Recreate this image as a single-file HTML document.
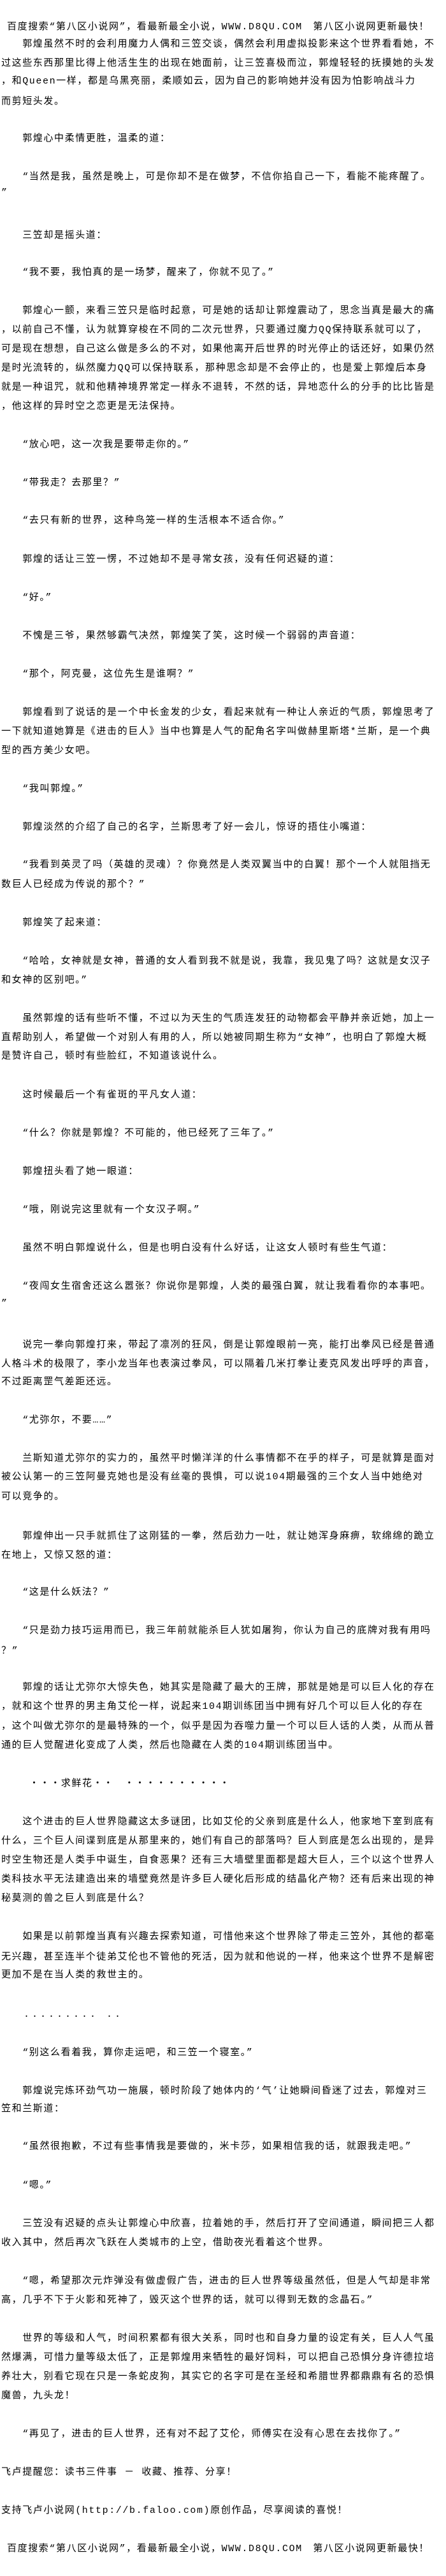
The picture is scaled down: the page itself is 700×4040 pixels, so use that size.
<!DOCTYPE html>
<html><head><meta charset="utf-8">
<style>
html,body{margin:0;padding:0;background:#fff;}
body{width:700px;height:4040px;position:relative;overflow:hidden;}
.l{position:absolute;left:2px;height:20px;line-height:20px;white-space:nowrap;color:#000;
font-family:"Liberation Mono","Noto Sans CJK SC","WenQuanYi Zen Hei",monospace;font-size:15px;letter-spacing:1.6px;}
</style></head><body>
<div class="l" style="top:33px;left:11px">百度搜索“第八区小说网”，看最新最全小说，WWW.D8QU.COM　第八区小说网更新最快！</div>
<div class="l" style="top:60px">　　郭煌虽然不时的会利用魔力人偶和三笠交谈，偶然会利用虚拟投影来这个世界看看她，不</div>
<div class="l" style="top:90px">过这些东西那里比得上他活生生的出现在她面前，让三笠喜极而泣，郭煌轻轻的抚摸她的头发</div>
<div class="l" style="top:118px">，和Queen一样，都是乌黑亮丽，柔顺如云，因为自己的影响她并没有因为怕影响战斗力</div>
<div class="l" style="top:150px">而剪短头发。</div>
<div class="l" style="top:208px">　　郭煌心中柔情更胜，温柔的道：</div>
<div class="l" style="top:268px">　　“当然是我，虽然是晚上，可是你却不是在做梦，不信你掐自己一下，看能不能疼醒了。</div>
<div class="l" style="top:293px">”</div>
<div class="l" style="top:360px">　　三笠却是摇头道：</div>
<div class="l" style="top:418px">　　“我不要，我怕真的是一场梦，醒来了，你就不见了。”</div>
<div class="l" style="top:478px">　　郭煌心一颤，来看三笠只是临时起意，可是她的话却让郭煌震动了，思念当真是最大的痛</div>
<div class="l" style="top:508px">，以前自己不懂，认为就算穿梭在不同的二次元世界，只要通过魔力QQ保持联系就可以了，</div>
<div class="l" style="top:538px">可是现在想想，自己这么做是多么的不对，如果他离开后世界的时光停止的话还好，如果仍然</div>
<div class="l" style="top:568px">是时光流转的，纵然魔力QQ可以保持联系，那种思念却是不会停止的，也是爱上郭煌后本身</div>
<div class="l" style="top:598px">就是一种诅咒，就和他精神境界常定一样永不退转，不然的话，异地恋什么的分手的比比皆是</div>
<div class="l" style="top:628px">，他这样的异时空之恋更是无法保持。</div>
<div class="l" style="top:688px">　　“放心吧，这一次我是要带走你的。”</div>
<div class="l" style="top:748px">　　“带我走？去那里？”</div>
<div class="l" style="top:807px">　　“去只有新的世界，这种鸟笼一样的生活根本不适合你。”</div>
<div class="l" style="top:868px">　　郭煌的话让三笠一愣，不过她却不是寻常女孩，没有任何迟疑的道：</div>
<div class="l" style="top:928px">　　“好。”</div>
<div class="l" style="top:988px">　　不愧是三爷，果然够霸气决然，郭煌笑了笑，这时候一个弱弱的声音道：</div>
<div class="l" style="top:1048px">　　“那个，阿克曼，这位先生是谁啊？”</div>
<div class="l" style="top:1108px">　　郭煌看到了说话的是一个中长金发的少女，看起来就有一种让人亲近的气质，郭煌思考了</div>
<div class="l" style="top:1138px">一下就知道她算是《进击的巨人》当中也算是人气的配角名字叫做赫里斯塔*兰斯，是一个典</div>
<div class="l" style="top:1168px">型的西方美少女吧。</div>
<div class="l" style="top:1228px">　　“我叫郭煌。”</div>
<div class="l" style="top:1288px">　　郭煌淡然的介绍了自己的名字，兰斯思考了好一会儿，惊讶的捂住小嘴道：</div>
<div class="l" style="top:1347px">　　“我看到英灵了吗（英雄的灵魂）？你竟然是人类双翼当中的白翼！那个一个人就阻挡无</div>
<div class="l" style="top:1378px">数巨人已经成为传说的那个？”</div>
<div class="l" style="top:1438px">　　郭煌笑了起来道：</div>
<div class="l" style="top:1498px">　　“哈哈，女神就是女神，普通的女人看到我不就是说，我靠，我见鬼了吗？这就是女汉子</div>
<div class="l" style="top:1528px">和女神的区别吧。”</div>
<div class="l" style="top:1588px">　　虽然郭煌的话有些听不懂，不过以为天生的气质连发狂的动物都会平静并亲近她，加上一</div>
<div class="l" style="top:1618px">直帮助别人，希望做一个对别人有用的人，所以她被同期生称为“女神”，也明白了郭煌大概</div>
<div class="l" style="top:1647px">是赞许自己，顿时有些脸红，不知道该说什么。</div>
<div class="l" style="top:1708px">　　这时候最后一个有雀斑的平凡女人道：</div>
<div class="l" style="top:1768px">　　“什么？你就是郭煌？不可能的，他已经死了三年了。”</div>
<div class="l" style="top:1828px">　　郭煌扭头看了她一眼道：</div>
<div class="l" style="top:1888px">　　“哦，刚说完这里就有一个女汉子啊。”</div>
<div class="l" style="top:1948px">　　虽然不明白郭煌说什么，但是也明白没有什么好话，让这女人顿时有些生气道：</div>
<div class="l" style="top:2008px">　　“夜闯女生宿舍还这么嚣张？你说你是郭煌，人类的最强白翼，就让我看看你的本事吧。</div>
<div class="l" style="top:2035px">”</div>
<div class="l" style="top:2100px">　　说完一拳向郭煌打来，带起了凛冽的狂风，倒是让郭煌眼前一亮，能打出拳风已经是普通</div>
<div class="l" style="top:2130px">人格斗术的极限了，李小龙当年也表演过拳风，可以隔着几米打拳让麦克风发出呼呼的声音，</div>
<div class="l" style="top:2158px">不过距离罡气差距还远。</div>
<div class="l" style="top:2218px">　　“尤弥尔，不要……”</div>
<div class="l" style="top:2278px">　　兰斯知道尤弥尔的实力的，虽然平时懒洋洋的什么事情都不在乎的样子，可是就算是面对</div>
<div class="l" style="top:2307px">被公认第一的三笠阿曼克她也是没有丝毫的畏惧，可以说104期最强的三个女人当中她绝对</div>
<div class="l" style="top:2338px">可以竞争的。</div>
<div class="l" style="top:2400px">　　郭煌伸出一只手就抓住了这刚猛的一拳，然后劲力一吐，就让她浑身麻痹，软绵绵的跪立</div>
<div class="l" style="top:2430px">在地上，又惊又怒的道：</div>
<div class="l" style="top:2488px">　　“这是什么妖法？”</div>
<div class="l" style="top:2548px">　　“只是劲力技巧运用而已，我三年前就能杀巨人犹如屠狗，你认为自己的底牌对我有用吗</div>
<div class="l" style="top:2580px">？”</div>
<div class="l" style="top:2637px">　　郭煌的话让尤弥尔大惊失色，她其实是隐藏了最大的王牌，那就是她是可以巨人化的存在</div>
<div class="l" style="top:2667px">，就和这个世界的男主角艾伦一样，说起来104期训练团当中拥有好几个可以巨人化的存在</div>
<div class="l" style="top:2698px">，这个叫做尤弥尔的是最特殊的一个，似乎是因为吞噬力量一个可以巨人话的人类，从而从普</div>
<div class="l" style="top:2728px">通的巨人觉醒进化变成了人类，然后也隐藏在人类的104期训练团当中。</div>
<div class="l" style="top:2788px;left:46px">・・・求鲜花・・　・・・・・・・・・・</div>
<div class="l" style="top:2848px">　　这个进击的巨人世界隐藏这太多谜团，比如艾伦的父亲到底是什么人，他家地下室到底有</div>
<div class="l" style="top:2878px">什么，三个巨人间谍到底是从那里来的，她们有自己的部落吗？巨人到底是怎么出现的，是异</div>
<div class="l" style="top:2908px">时空生物还是人类手中诞生，自食恶果？还有三大墙壁里面都是超大巨人，三个以这个世界人</div>
<div class="l" style="top:2938px">类科技水平无法建造出来的墙壁竟然是许多巨人硬化后形成的结晶化产物？还有后来出现的神</div>
<div class="l" style="top:2968px">秘莫测的兽之巨人到底是什么？</div>
<div class="l" style="top:3028px">　　如果是以前郭煌当真有兴趣去探索知道，可惜他来这个世界除了带走三笠外，其他的都毫</div>
<div class="l" style="top:3060px">无兴趣，甚至连半个徒弟艾伦也不管他的死活，因为就和他说的一样，他来这个世界不是解密</div>
<div class="l" style="top:3088px">更加不是在当人类的救世主的。</div>
<div class="l" style="top:3150px;left:37px;letter-spacing:4px">......... ..</div>
<div class="l" style="top:3210px">　　“别这么看着我，算你走运吧，和三笠一个寝室。”</div>
<div class="l" style="top:3270px">　　郭煌说完炼环劲气功一施展，顿时阶段了她体内的‘气’让她瞬间昏迷了过去，郭煌对三</div>
<div class="l" style="top:3298px">笠和兰斯道：</div>
<div class="l" style="top:3357px">　　“虽然很抱歉，不过有些事情我是要做的，米卡莎，如果相信我的话，就跟我走吧。”</div>
<div class="l" style="top:3418px">　　“嗯。”</div>
<div class="l" style="top:3478px">　　三笠没有迟疑的点头让郭煌心中欣喜，拉着她的手，然后打开了空间通道，瞬间把三人都</div>
<div class="l" style="top:3508px">收入其中，然后再次飞跃在人类城市的上空，借助夜光看着这个世界。</div>
<div class="l" style="top:3568px">　　“嗯，希望那次元炸弹没有做虚假广告，进击的巨人世界等级虽然低，但是人气却是非常</div>
<div class="l" style="top:3598px">高，几乎不下于火影和死神了，毁灭这个世界的话，就可以得到无数的念晶石。”</div>
<div class="l" style="top:3658px">　　世界的等级和人气，时间积累都有很大关系，同时也和自身力量的设定有关，巨人人气虽</div>
<div class="l" style="top:3688px">然爆满，可惜力量等级太低了，正是郭煌用来牺牲的最好饲料，可以把自己恐惧分身许德拉培</div>
<div class="l" style="top:3718px">养壮大，别看它现在只是一条蛇皮狗，其实它的名字可是在圣经和希腊世界都鼎鼎有名的恐惧</div>
<div class="l" style="top:3748px">魔兽，九头龙！</div>
<div class="l" style="top:3808px">　　“再见了，进击的巨人世界，还有对不起了艾伦，师傅实在没有心思在去找你了。”</div>
<div class="l" style="top:3868px">飞卢提醒您：读书三件事 － 收藏、推荐、分享！</div>
<div class="l" style="top:3928px">支持飞卢小说网(http://b.faloo.com)原创作品，尽享阅读的喜悦！</div>
<div class="l" style="top:3988px;left:11px">百度搜索“第八区小说网”，看最新最全小说，WWW.D8QU.COM　第八区小说网更新最快！</div>
</body></html>
